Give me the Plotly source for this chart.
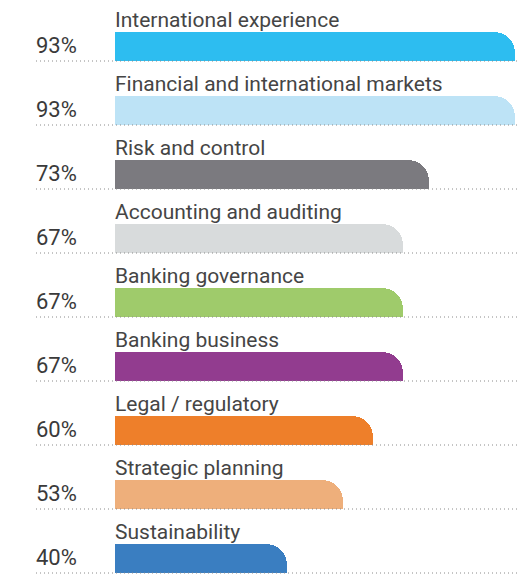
import plotly.graph_objects as go

categories = [
    "International experience",
    "Financial and international markets",
    "Risk and control",
    "Accounting and auditing",
    "Banking governance",
    "Banking business",
    "Legal / regulatory",
    "Strategic planning",
    "Sustainability",
]
values = [93, 93, 73, 67, 67, 67, 60, 53, 40]
pct_labels = ["93%", "93%", "73%", "67%", "67%", "67%", "60%", "53%", "40%"]
colors = ["#2DBDF0", "#BDE3F6", "#7B7A7F", "#D8DBDC", "#9FCB6B",
          "#923C8F", "#EE7F2A", "#EEAF7B", "#3A7EC1"]

PAGE = 8            # default body margin of the html page
W, H = 527 - PAGE, 574 - PAGE
ROW = 64.0          # pixels per row
BAR = 29.0          # bar thickness in px
R = 21.0            # corner radius px
FIRST = 61.0 - PAGE # pixel y of first bar bottom
X0 = 115.0 - PAGE   # pixel x of zero
PXPCT = 4.30        # pixels per percent

idx = list(range(len(categories)))
font_family = "Roboto, 'Noto Sans', sans-serif"

fig = go.Figure()
# rounded part (top-right corner)
fig.add_trace(go.Bar(
    y=idx, x=values, base=0, orientation="h",
    offset=-BAR / ROW, width=2 * R / ROW,
    marker=dict(color=colors, line=dict(width=0), cornerradius=R),
    hoverinfo="skip", showlegend=False,
))
# square body (full thickness) up to where the corner starts
fig.add_trace(go.Bar(
    y=idx, x=[v - R / PXPCT for v in values], base=0, orientation="h",
    offset=-BAR / ROW, width=BAR / ROW,
    marker=dict(color=colors, line=dict(width=0)),
    hoverinfo="skip", showlegend=False,
))
# square lower part (bottom-right corner stays square)
fig.add_trace(go.Bar(
    y=idx, x=values, base=0, orientation="h",
    offset=-(BAR - R) / ROW, width=(BAR - R) / ROW,
    marker=dict(color=colors, line=dict(width=0)),
    hoverinfo="skip", showlegend=False,
))
# white cover below bar bottom
fig.add_trace(go.Bar(
    y=idx, x=[v + 1 for v in values], base=-0.5, orientation="h",
    offset=0, width=(2 * R - BAR + 1) / ROW,
    marker=dict(color="white", line=dict(width=0)),
    hoverinfo="skip", showlegend=False,
))

shapes = []
annotations = []
for i, (cat, p) in enumerate(zip(categories, pct_labels)):
    shapes.append(dict(type="line", xref="paper", yref="y",
                       x0=(36 - PAGE) / W, x1=1, y0=i, y1=i, layer="above",
                       line=dict(color="#8a8a8a", width=1, dash="1px,3px")))
    annotations.append(dict(x=0, y=i - BAR / ROW, xref="x", yref="y",
                            text=cat, showarrow=False, xanchor="left",
                            yanchor="bottom", xshift=-2, yshift=-2,
                            font=dict(family=font_family, size=21, color="#454545")))
    annotations.append(dict(x=(36 - PAGE) / W, y=i, xref="paper", yref="y",
                            text=p, showarrow=False, xanchor="left",
                            yanchor="bottom", xshift=-2, yshift=1,
                            font=dict(family=font_family, size=22, color="#3a3a3a")))

fig.update_layout(
    width=W, height=H,
    margin=dict(l=0, r=0, t=0, b=0),
    paper_bgcolor="white", plot_bgcolor="white",
    barmode="overlay", bargap=0,
    hovermode=False,
    xaxis=dict(range=[-X0 / PXPCT, (W - X0) / PXPCT], visible=False, fixedrange=True),
    yaxis=dict(range=[(H - FIRST) / ROW, -FIRST / ROW], visible=False, fixedrange=True),
    shapes=shapes, annotations=annotations,
)

fig.write_html("out.html")
